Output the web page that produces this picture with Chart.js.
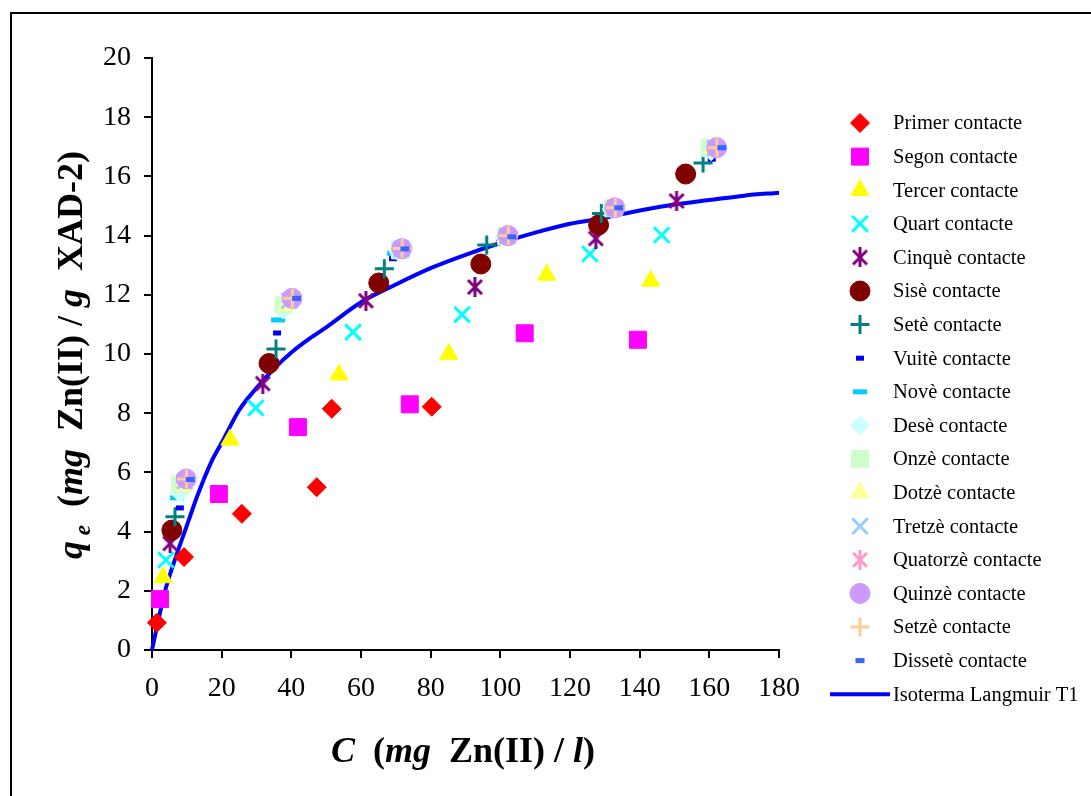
<!DOCTYPE html>
<html>
<head>
<meta charset="utf-8">
<script src="https://cdn.jsdelivr.net/npm/chart.js@4.4.1/dist/chart.umd.min.js"></script>
<style>
  html, body { margin: 0; padding: 0; background: #fff; }
  canvas { display: block; }
</style>
</head>
<body>
<canvas id="chart" width="1091" height="796"></canvas>
<script>
/* ── Data ── */
const LABELS = ['Primer contacte', 'Segon contacte', 'Tercer contacte', 'Quart contacte', 'Cinquè contacte',
  'Sisè contacte', 'Setè contacte', 'Vuitè contacte', 'Novè contacte', 'Desè contacte', 'Onzè contacte',
  'Dotzè contacte', 'Tretzè contacte', 'Quatorzè contacte', 'Quinzè contacte', 'Setzè contacte', 'Dissetè contacte'];
const CURVE_LABEL = 'Isoterma Langmuir T1';

const X_TICKS = [0, 20, 40, 60, 80, 100, 120, 140, 160, 180];
const Y_TICKS = [0, 2, 4, 6, 8, 10, 12, 14, 16, 18, 20];

// C (mg/l) and qe (mg/g) per contact
const cPrimer   = [1.4, 9.2, 25.8, 47.3, 51.6, 80.3];
const qPrimer   = [0.92, 3.14, 4.6, 5.5, 8.15, 8.22];
const cSegon    = [2.3, 19.2, 41.9, 74.0, 107.0, 139.5];
const qSegon    = [1.72, 5.27, 7.53, 8.3, 10.7, 10.48];
const cTercer   = [3.2, 22.4, 53.7, 85.2, 113.3, 143.2];
const qTercer   = [2.45, 7.1, 9.3, 10.0, 12.67, 12.47];
const cQuart    = [4.0, 29.8, 57.7, 89.0, 125.7, 146.3];
const qQuart    = [3.04, 8.18, 10.74, 11.33, 13.38, 14.02];
const cCinque   = [5.2, 31.8, 61.4, 92.7, 127.4, 150.6];
const qCinque   = [3.6, 9.0, 11.8, 12.26, 13.9, 15.17];
const cSise     = [5.7, 33.6, 65.1, 94.4, 128.2, 153.2];
const qSise     = [4.05, 9.68, 12.4, 13.04, 14.36, 16.08];
const cSete     = [6.6, 35.6, 66.7, 96.1, 129.0, 158.2];
const qSete     = [4.5, 10.17, 12.88, 13.68, 14.75, 16.45];
const cVuite    = [8.0, 35.9, 69.2, 100.0, 131.0, 160.7];
const qVuite    = [4.8, 10.71, 13.22, 13.9, 14.85, 16.58];
const cNove     = [7.2, 36.2, 69.5, 100.8, 131.8, 160.2];
const qNove     = [5.14, 11.15, 13.4, 13.95, 14.9, 16.8];
const cDese     = [8.0, 37.6, 70.8, 101.0, 132.0, 160.5];
const qDese     = [5.3, 11.5, 13.45, 13.95, 14.9, 16.85];
const cOnze     = [8.0, 37.8, 71.2, 101.6, 132.4, 160.1];
const qOnze     = [5.6, 11.65, 13.5, 13.97, 14.92, 16.96];
const cDotze    = [9.0, 38.7, 71.4, 101.8, 132.6, 161.0];
const qDotze    = [5.55, 11.65, 13.52, 13.98, 14.93, 16.95];
const cTretze   = [9.4, 39.4, 71.6, 102.0, 132.8, 161.6];
const qTretze   = [5.7, 11.8, 13.55, 13.99, 14.93, 16.96];
const cQuatorze = [9.8, 40.2, 71.7, 102.2, 132.9, 162.1];
const qQuatorze = [5.78, 11.88, 13.56, 13.99, 14.93, 16.97];
const cQuinze   = [9.8, 40.2, 71.7, 102.2, 132.9, 162.1];
const qQuinze   = [5.78, 11.88, 13.56, 14.0, 14.94, 16.97];
const cSetze    = [9.9, 40.3, 71.8, 102.3, 133.0, 162.2];
const qSetze    = [5.78, 11.88, 13.56, 14.0, 14.94, 16.97];
const cDissete  = [11.0, 41.5, 72.6, 103.3, 134.0, 163.6];
const qDissete  = [5.76, 11.88, 13.55, 13.96, 14.94, 16.97];

// Langmuir curve
const curveC = [0, 2, 4, 7, 10, 13, 17, 20, 25, 30, 35, 40, 45, 50, 60, 70, 80, 90, 100, 110, 120, 130, 140, 150, 160, 170, 180];
const curveQ = [0, 1.1, 2.1, 3.2, 4.2, 5.2, 6.35, 7.0, 8.1, 8.85, 9.5, 10.05, 10.5, 10.9, 11.75, 12.35, 12.9, 13.35, 13.75, 14.1, 14.4, 14.6, 14.85, 15.05, 15.2, 15.35, 15.45];

const SERIES_X = [cPrimer, cSegon, cTercer, cQuart, cCinque, cSise, cSete, cVuite, cNove, cDese, cOnze, cDotze, cTretze, cQuatorze, cQuinze, cSetze, cDissete];
const SERIES_Y = [qPrimer, qSegon, qTercer, qQuart, qCinque, qSise, qSete, qVuite, qNove, qDese, qOnze, qDotze, qTretze, qQuatorze, qQuinze, qSetze, qDissete];

/* ── Marker styles ── */
// six-armed asterisk (X plus vertical bar), as in the original
function asterisk(color) {
  const c = document.createElement('canvas');
  c.width = 18; c.height = 20;
  const g = c.getContext('2d');
  g.strokeStyle = color;
  g.lineWidth = 3;
  g.beginPath();
  g.moveTo(2, 3); g.lineTo(16, 17);
  g.moveTo(16, 3); g.lineTo(2, 17);
  g.moveTo(9, 0); g.lineTo(9, 20);
  g.stroke();
  return c;
}

const STYLES = [
  { color: '#FF0000', style: 'rectRot',  r: 9.5, bw: 1 },
  { color: '#FF00FF', style: 'rect',     r: 12, bw: 1 },
  { color: '#FFFF00', style: 'triangle', r: 10.5, bw: 1 },
  { color: '#00FFFF', style: 'crossRot', r: 11, bw: 3 },
  { color: '#800080', style: asterisk('#800080'), r: 9, bw: 3 },
  { color: '#800000', style: 'circle',   r: 10, bw: 1 },
  { color: '#008080', style: 'cross',    r: 9.5, bw: 3 },
  { color: '#0000FF', style: 'line',     r: 4,  bw: 5 },
  { color: '#00CCFF', style: 'line',     r: 7,  bw: 5 },
  { color: '#CCFFFF', style: 'rectRot',  r: 9.5, bw: 1 },
  { color: '#CCFFCC', style: 'rect',     r: 12, bw: 1 },
  { color: '#FFFF99', style: 'triangle', r: 10.5, bw: 1 },
  { color: '#99CCFF', style: 'crossRot', r: 11, bw: 3 },
  { color: '#FF99CC', style: asterisk('#FF99CC'), r: 9, bw: 3 },
  { color: '#CC99FF', style: 'circle',   r: 10, bw: 1 },
  { color: '#FFCC99', style: 'cross',    r: 9.5, bw: 3 },
  { color: '#3366FF', style: 'line',     r: 4.5, bw: 5 }
];

const SERIF = "'Liberation Serif', 'Times New Roman', serif";

const datasets = SERIES_X.map((xs, i) => ({
  type: 'scatter',
  label: LABELS[i],
  data: xs.map((x, j) => ({ x, y: SERIES_Y[i][j] })),
  pointStyle: STYLES[i].style,
  pointRadius: STYLES[i].r,
  pointBorderWidth: STYLES[i].bw,
  backgroundColor: STYLES[i].color,
  borderColor: STYLES[i].color,
  order: 30 - i,
  clip: false
}));

datasets.push({
  type: 'line',
  label: CURVE_LABEL,
  data: curveC.map((x, j) => ({ x, y: curveQ[j] })),
  borderColor: '#0000FF',
  borderWidth: 4,
  pointRadius: 0,
  cubicInterpolationMode: 'monotone',
  fill: false,
  order: 100,
  clip: false
});

/* ── Helpers for mixed-font titles ── */
function runsWidth(ctx, runs) {
  return runs.reduce((w, r) => { ctx.font = r.font; return w + ctx.measureText(r.text).width; }, 0);
}
function drawRuns(ctx, runs, cx, baseline) {
  let x = cx - runsWidth(ctx, runs) / 2;
  runs.forEach(r => {
    ctx.font = r.font;
    ctx.fillText(r.text, x, baseline + (r.dy || 0));
    x += ctx.measureText(r.text).width;
  });
}

const B  = `bold 36px ${SERIF}`;
const BI = `italic bold 36px ${SERIF}`;
const X_TITLE = [
  { text: 'C', font: BI }, { text: '  (', font: B }, { text: 'mg', font: BI },
  { text: '  Zn(II) / ', font: B }, { text: 'l', font: BI }, { text: ')', font: B }
];
const Y_TITLE = [
  { text: 'q', font: BI }, { text: ' e', font: `italic bold 23px ${SERIF}`, dy: 8 },
  { text: '  (', font: B }, { text: 'mg', font: BI }, { text: '  Zn(II) / ', font: B },
  { text: 'g', font: BI }, { text: '  XAD-2)', font: B }
];

const decor = {
  id: 'decor',
  beforeDraw(chart) {
    const ctx = chart.ctx;
    ctx.save();
    ctx.fillStyle = '#fff';
    ctx.fillRect(0, 0, chart.width, chart.height);
    ctx.strokeStyle = '#000';
    ctx.lineWidth = 2;
    ctx.strokeRect(11, 13, 1120, 820);
    ctx.restore();
  },
  afterDraw(chart) {
    const ctx = chart.ctx;
    ctx.save();
    ctx.fillStyle = '#000';
    ctx.textAlign = 'left';
    ctx.textBaseline = 'alphabetic';
    drawRuns(ctx, X_TITLE, 463, 762);

    ctx.save();
    ctx.translate(82, 355);
    ctx.rotate(-Math.PI / 2);
    drawRuns(ctx, Y_TITLE, 0, 0);
    ctx.restore();

    // legend
    const lx = 860, tx = 893, y0 = 123, dy = 33.6;
    ctx.textBaseline = 'middle';
    ctx.font = `20.5px ${SERIF}`;
    LABELS.forEach((lab, i) => {
      const y = y0 + i * dy;
      const s = STYLES[i];
      ctx.fillStyle = s.color;
      ctx.strokeStyle = s.color;
      ctx.lineWidth = s.bw;
      Chart.helpers.drawPoint(ctx, { pointStyle: s.style, radius: s.r, rotation: 0, borderWidth: s.bw }, lx, y);
      ctx.fillStyle = '#000';
      ctx.fillText(lab, tx, y + 1);
    });
    const ly = y0 + LABELS.length * dy;
    ctx.strokeStyle = '#0000FF';
    ctx.lineWidth = 4;
    ctx.beginPath();
    ctx.moveTo(830, ly);
    ctx.lineTo(890, ly);
    ctx.stroke();
    ctx.fillStyle = '#000';
    ctx.fillText(CURVE_LABEL, tx, ly + 1);
    ctx.restore();
  }
};

const axisCommon = {
  type: 'linear',
  grid: { display: true, drawOnChartArea: false, drawTicks: true, tickLength: 8, color: '#000', lineWidth: 2 },
  border: { display: true, color: '#000', width: 2 }
};

new Chart(document.getElementById('chart'), {
  data: { datasets },
  options: {
    responsive: false,
    animation: false,
    layout: { padding: { left: 0, top: 58, right: 312, bottom: 0 } },
    plugins: { legend: { display: false }, tooltip: { enabled: false } },
    scales: {
      x: {
        ...axisCommon,
        min: X_TICKS[0], max: X_TICKS[X_TICKS.length - 1],
        afterBuildTicks: s => { s.ticks = X_TICKS.map(v => ({ value: v })); },
        afterFit: s => { s.height = 146; },
        ticks: { color: '#000', font: { family: SERIF, size: 28 }, padding: 14, maxRotation: 0 }
      },
      y: {
        ...axisCommon,
        min: Y_TICKS[0], max: Y_TICKS[Y_TICKS.length - 1],
        afterBuildTicks: s => { s.ticks = Y_TICKS.map(v => ({ value: v })); },
        afterFit: s => { s.width = 152; },
        ticks: { color: '#000', font: { family: SERIF, size: 28 }, padding: 13 }
      }
    }
  },
  plugins: [decor]
});
</script>
</body>
</html>
